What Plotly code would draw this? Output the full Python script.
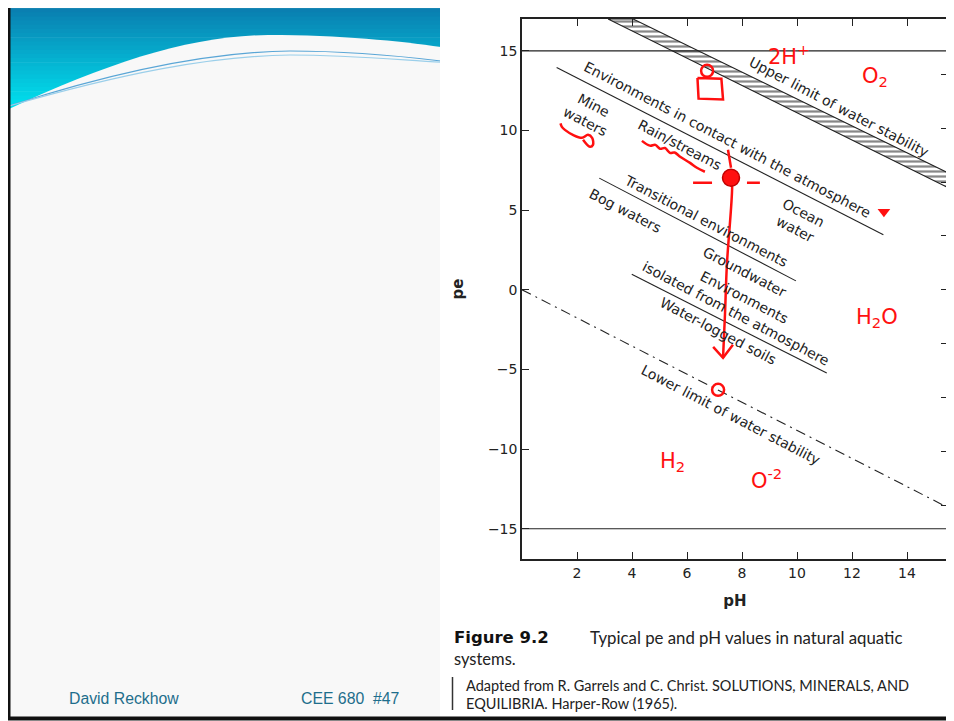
import plotly.graph_objects as go

# the page adds an 8px body margin, so the figure is drawn 8px in from the corner
OX, OY = 8, 8
W, H = 946, 713

# ---------------- data ----------------
ph_ticks = [2, 4, 6, 8, 10, 12, 14]
pe_ticks = [-15, -10, -5, 0, 5, 10, 15]
eh_ticks = [-0.8, -0.6, -0.4, -0.2, 0.0, 0.2, 0.4, 0.6, 0.8]

# upper limit band (polygon corners, pH / pe)
band_ph = [3.13, 4.04, 15.5, 15.5, 3.13]
band_pe = [17.0, 17.0, 7.34, 6.40, 17.0]

# lower limit of water stability (dash-dot)
lower_ph = [0.0, 15.5]
lower_pe = [0.0, -13.68]

# horizontal limits
hline_ph = [0.0, 15.5]
hline_top_pe = [15.0, 15.0]
hline_bot_pe = [-15.0, -15.0]

# boundary lines between environments
atm_ph = [1.26, 13.14]
atm_pe = [13.95, 3.45]
trans_ph = [2.81, 9.96]
trans_pe = [7.01, 0.56]
iso_ph = [3.99, 11.08]
iso_pe = [0.98, -5.23]

# region labels
label_text = ["Upper limit of water stability",
              "Environments in contact with the atmosphere",
              "Mine<br>waters", "Rain/streams", "Ocean<br>water",
              "Transitional environments", "Bog waters", "Groundwater",
              "Environments<br>isolated from the atmosphere",
              "Water-logged soils", "Lower limit of water stability"]
label_ph = [11.53, 7.49, 2.44, 5.75, 10.1, 6.69, 3.78, 8.11, 7.91, 7.13, 7.6]
label_pe = [11.49, 9.42, 11.1, 9.1, 4.33, 4.33, 4.96, 1.13, -0.97, -2.57, -7.85]

# red hand annotations
red_text = ["2H<sup>+</sup>", "O<sub>2</sub>", "H<sub>2</sub>O", "H<sub>2</sub>", "O<sup>-2</sup>"]
red_text_ph = [9.69, 12.84, 12.9, 5.49, 8.9]
red_text_pe = [14.75, 13.37, -1.76, -10.8, -11.9]

arrow_ph = [7.6, 7.64, 7.45, 7.38, 7.31]
arrow_pe = [7.03, 6.59, 1.57, -1.57, -4.27]
arrowhead_ph = [6.95, 7.31, 7.67]
arrowhead_pe = [-3.58, -4.27, -3.45]
dot_ph = [7.6]
dot_pe = [7.03]
tick_above_ph = [7.49, 7.6]
tick_above_pe = [8.79, 7.66]
dash_left_ph = [6.22, 6.91]
dash_left_pe = [6.72, 6.72]
dash_right_ph = [8.18, 8.65]
dash_right_pe = [6.72, 6.72]
small_circ_ph = [6.73, 7.13]
small_circ_pe = [13.75, -6.28]
square_ph = [6.38, 7.25, 7.31, 6.42, 6.38]
square_pe = [13.3, 13.25, 11.95, 12.0, 13.3]
tri_ph = [13.16]
tri_pe = [4.9]
squig1_ph = [1.4, 1.45, 1.56, 1.85, 2.18, 2.4, 2.55, 2.58, 2.47, 2.22]
squig1_pe = [10.45, 10.23, 10.04, 9.73, 9.54, 9.73, 9.54, 9.1, 8.98, 9.42]
squig2_ph = [4.36, 4.65, 4.85, 5.02, 5.2, 5.38, 5.55, 5.75, 6.11, 6.36, 6.65]
squig2_pe = [9.35, 9.05, 9.1, 8.85, 8.9, 8.6, 8.62, 8.35, 7.97, 7.66, 7.41]

RED = "#FF1010"
INK = "#222222"


def px(x):
    return (x - OX) / W


def py(y):
    return 1 - (y - OY) / H


fig = go.Figure()

# hatched band
fig.add_trace(go.Scatter(x=band_ph, y=band_pe, mode="lines", fill="toself",
                         line=dict(color=INK, width=1.1),
                         fillcolor="white",
                         fillpattern=dict(shape="-", fgcolor="#111", bgcolor="white",
                                          size=5, solidity=0.45),
                         hoverinfo="skip", showlegend=False))
for xs, ys, dash in [(hline_ph, hline_top_pe, "solid"), (hline_ph, hline_bot_pe, "solid"),
                     (atm_ph, atm_pe, "solid"), (trans_ph, trans_pe, "solid"),
                     (iso_ph, iso_pe, "solid"), (lower_ph, lower_pe, "10px,5px,2px,5px")]:
    fig.add_trace(go.Scatter(x=xs, y=ys, mode="lines",
                             line=dict(color=INK, width=1.1, dash=dash),
                             hoverinfo="skip", showlegend=False))

# red marks
for xs, ys, shp in [(arrow_ph, arrow_pe, "spline"), (arrowhead_ph, arrowhead_pe, "linear"),
                    (tick_above_ph, tick_above_pe, "linear"), (dash_left_ph, dash_left_pe, "linear"),
                    (dash_right_ph, dash_right_pe, "linear"), (square_ph, square_pe, "linear"),
                    (squig1_ph, squig1_pe, "spline"), (squig2_ph, squig2_pe, "spline")]:
    fig.add_trace(go.Scatter(x=xs, y=ys, mode="lines",
                             line=dict(color=RED, width=2.5, shape=shp),
                             hoverinfo="skip", showlegend=False))
fig.add_trace(go.Scatter(x=dot_ph, y=dot_pe, mode="markers",
                         marker=dict(color=RED, size=17, line=dict(color="#C00000", width=1.5)),
                         hoverinfo="skip", showlegend=False))
fig.add_trace(go.Scatter(x=small_circ_ph, y=small_circ_pe, mode="markers",
                         marker=dict(symbol="circle-open", color=RED, size=12,
                                     line=dict(color=RED, width=2.5)),
                         hoverinfo="skip", showlegend=False))
fig.add_trace(go.Scatter(x=tri_ph, y=tri_pe, mode="markers",
                         marker=dict(symbol="triangle-down", color=RED, size=11),
                         hoverinfo="skip", showlegend=False))
# invisible trace for the Eh axis
fig.add_trace(go.Scatter(x=[0], y=[0], yaxis="y2", mode="markers",
                         marker=dict(opacity=0), hoverinfo="skip", showlegend=False))

ann = []
for t, x, y in zip(label_text, label_ph, label_pe):
    ann.append(dict(text=t, x=x, y=y, xref="x", yref="y", showarrow=False,
                    textangle=27.5, align="center",
                    font=dict(family="DejaVu Sans", size=14, color=INK)))
for t, x, y in zip(red_text, red_text_ph, red_text_pe):
    ann.append(dict(text=t, x=x, y=y, xref="x", yref="y", showarrow=False,
                    font=dict(family="DejaVu Sans", size=21, color=RED)))


def pann(text, x, y, family, size, color):
    return dict(text=text, x=px(x), y=py(y), xref="paper", yref="paper",
                xanchor="left", yanchor="middle", showarrow=False,
                font=dict(family=family, size=size, color=color))


# caption and footer
ann += [
    pann("<b>Figure 9.2</b>", 452, 637, "DejaVu Sans", 16.5, "#111"),
    pann("Typical pe and pH values in natural aquatic", 588, 637, "Lato", 16.8, "#222"),
    pann("systems.", 452, 659, "Lato", 16.5, "#222"),
    pann("Adapted from R. Garrels and C. Christ. SOLUTIONS, MINERALS, AND", 464, 685,
         "Lato", 14.5, "#222"),
    pann("EQUILIBRIA. Harper-Row (1965).", 464, 703, "Lato", 14.5, "#222"),
    pann("David Reckhow", 67, 698, "Liberation Sans", 15.8, "#1E6E8C"),
    pann("CEE 680  #47", 299, 698, "Liberation Sans", 15.8, "#1E6E8C"),
]

shapes = []
# slide body
shapes.append(dict(type="rect", xref="paper", yref="paper", x0=px(9), x1=px(440),
                   y0=py(718), y1=py(3), fillcolor="#F8F8F8", line=dict(width=0), layer="below"))
# gradient header stripes
top_c = (10, 123, 174)
bot_c = (0, 228, 240)
n = 26
y_top, y_bot = 4, 112
for i in range(n):
    f = i / (n - 1)
    c = tuple(int(round(top_c[k] + (bot_c[k] - top_c[k]) * f)) for k in range(3))
    ya = y_top + (y_bot - y_top) * i / n
    yb = y_top + (y_bot - y_top) * (i + 1) / n + 0.6
    shapes.append(dict(type="rect", xref="paper", yref="paper", x0=px(9), x1=px(440),
                       y0=py(yb), y1=py(ya), fillcolor="rgb(%d,%d,%d)" % c,
                       line=dict(width=0), layer="below"))


def P(x, y):
    return "%.5f,%.5f" % (px(x), py(y))


white_path = ("M " + P(9, 109) + " C " + P(110, 62) + " " + P(190, 36) + " " + P(268, 35)
              + " C " + P(340, 35) + " " + P(400, 41) + " " + P(441, 47)
              + " L " + P(441, 116) + " L " + P(9, 116) + " Z")
shapes.append(dict(type="path", xref="paper", yref="paper", path=white_path,
                   fillcolor="#F8F8F8", line=dict(width=0), layer="below"))
for off, col in [(0, "#5AA6D6"), (4, "#9BCFEA")]:
    pth = ("M " + P(9, 106) + " C " + P(120, 70 + off) + " " + P(210, 52 + off) + " "
           + P(290, 51 + off) + " C " + P(350, 51 + off) + " " + P(400, 56 + off) + " "
           + P(441, 61 + off * 0.3))
    shapes.append(dict(type="path", xref="paper", yref="paper", path=pth,
                       line=dict(color=col, width=1.2), layer="below"))
# chart image background
shapes.append(dict(type="rect", xref="paper", yref="paper", x0=px(440), x1=px(954),
                   y0=py(718), y1=py(3), fillcolor="white", line=dict(width=0), layer="below"))
# borders
shapes.append(dict(type="line", xref="paper", yref="paper", x0=px(9), x1=px(9),
                   y0=py(720), y1=py(8), line=dict(color="#111", width=3)))
shapes.append(dict(type="line", xref="paper", yref="paper", x0=px(8), x1=px(954),
                   y0=py(718.5), y1=py(718.5), line=dict(color="#111", width=4)))
# caption side bar
shapes.append(dict(type="line", xref="paper", yref="paper", x0=px(452.5), x1=px(452.5),
                   y0=py(710), y1=py(677), line=dict(color="#333", width=1.5)))

axis_font = dict(family="DejaVu Sans", size=14, color=INK)
fig.update_layout(
    width=W, height=H,
    margin=dict(l=0, r=0, t=0, b=0),
    paper_bgcolor="white", plot_bgcolor="rgba(0,0,0,0)",
    showlegend=False,
    xaxis=dict(domain=[px(522), px(948)], range=[0, 15.49],
               tickvals=ph_ticks, ticks="inside", ticklen=7, tickcolor=INK,
               tickfont=axis_font, showline=True, linecolor=INK, linewidth=1.5,
               mirror="ticks", showgrid=False, zeroline=False,
               title=dict(text="<b>pH</b>", font=dict(family="DejaVu Sans", size=15, color=INK),
                          standoff=16)),
    yaxis=dict(domain=[py(559), py(19)], range=[-16.9, 17.0],
               tickvals=pe_ticks, ticks="inside", ticklen=7, tickcolor=INK,
               tickfont=axis_font, showline=True, linecolor=INK, linewidth=1.5,
               mirror=True, showgrid=False, zeroline=False,
               title=dict(text="<b>pe</b>", font=dict(family="DejaVu Sans", size=15, color=INK),
                          standoff=21)),
    yaxis2=dict(overlaying="y", side="right", range=[-16.9 * 0.05916, 17.0 * 0.05916],
                tickvals=eh_ticks, ticks="inside", ticklen=7, tickcolor=INK,
                showticklabels=False, showgrid=False, zeroline=False, showline=False),
    annotations=ann,
    shapes=shapes,
)

fig.write_html("out.html")
